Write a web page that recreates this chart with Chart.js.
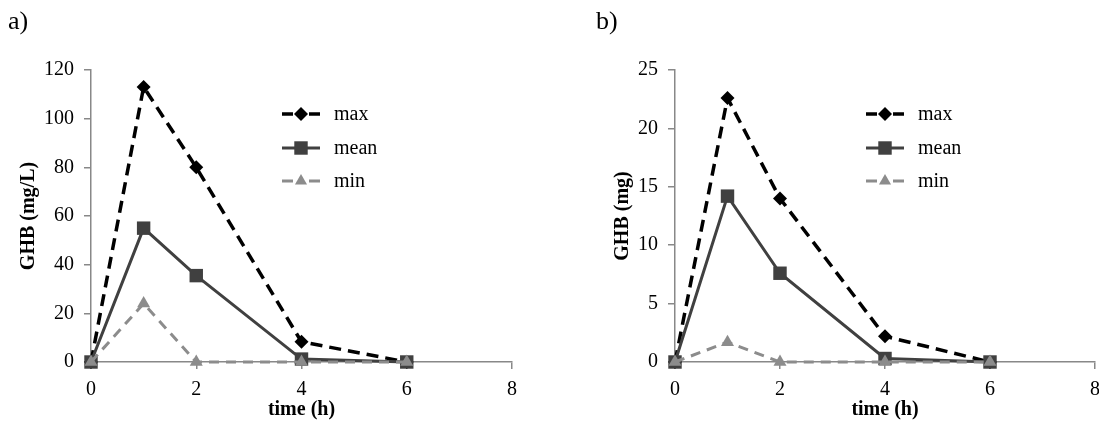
<!DOCTYPE html>
<html>
<head>
<meta charset="utf-8">
<script src="https://cdn.jsdelivr.net/npm/chart.js"></script>
<style>
  body { margin: 0; background: #fff; width: 1099px; height: 427px; position: relative; overflow: hidden; }
  canvas { position: absolute; top: 0; }
</style>
</head>
<body>
<canvas id="chartA" width="549" height="427" style="left:0"></canvas>
<canvas id="chartB" width="560" height="427" style="left:550px"></canvas>
<script>
// sampling times (h)
const times = [0, 1, 2, 4, 6];
const seriesNames = ["max", "mean", "min"];

// panel a) GHB concentration (mg/L)
const concMax = [0, 113, 80, 8.3, 0];
const concMean = [0, 55, 35.5, 1.2, 0];
const concMin = [0, 24, 0, 0, 0];

// panel b) GHB amount (mg)
const amtMax = [0, 22.6, 14, 2.2, 0];
const amtMean = [0, 14.2, 7.6, 0.3, 0];
const amtMin = [0, 1.7, 0, 0, 0];

const xTicks = [0, 2, 4, 6, 8];
const yTicksA = [0, 20, 40, 60, 80, 100, 120];
const yTicksB = [0, 5, 10, 15, 20, 25];

const serif = "'Liberation Serif', 'Times New Roman', serif";
const axisGray = "#888888";

// one style per series, same order as seriesNames
const styles = [
  { color: "#000000", dash: [12, 7], width: 3.5, point: "rectRot", radius: 7 },
  { color: "#404040", dash: [], width: 3, point: "rect", radius: 9.5 },
  { color: "#8c8c8c", dash: [10, 7], width: 3, point: "triangle", radius: 7.5 }
];

function drawMarker(ctx, type, x, y, r) {
  ctx.beginPath();
  if (type === "rectRot") {
    ctx.moveTo(x, y - r); ctx.lineTo(x + r, y); ctx.lineTo(x, y + r); ctx.lineTo(x - r, y);
  } else if (type === "rect") {
    const s = Math.SQRT1_2 * r;
    ctx.rect(x - s, y - s, 2 * s, 2 * s);
  } else {
    const w = r * Math.sqrt(3) / 2;
    ctx.moveTo(x, y - r); ctx.lineTo(x + w, y + r / 2); ctx.lineTo(x - w, y + r / 2);
  }
  ctx.closePath();
  ctx.fill();
}

// panel letter + legend drawn on the canvas
const decorPlugin = {
  id: "decor",
  afterDraw(chart, args, opts) {
    const ctx = chart.ctx;
    ctx.save();
    ctx.fillStyle = "#000";
    ctx.font = "26px " + serif;
    ctx.textBaseline = "middle";
    ctx.textAlign = "left";
    ctx.fillText(opts.panel, opts.panelX, 22);

    const lx0 = opts.legendX, lx1 = opts.legendX + 38, mid = (lx0 + lx1) / 2;
    seriesNames.forEach((name, i) => {
      const st = styles[i];
      const y = opts.rowsY[i];
      ctx.strokeStyle = st.color;
      ctx.fillStyle = st.color;
      ctx.lineWidth = st.width;
      ctx.lineCap = "butt";
      ctx.setLineDash([]);
      ctx.beginPath();
      if (st.dash.length) {
        ctx.moveTo(lx0, y); ctx.lineTo(mid - 8, y);
        ctx.moveTo(mid + 8, y); ctx.lineTo(lx1, y);
      } else {
        ctx.moveTo(lx0, y); ctx.lineTo(lx1, y);
      }
      ctx.stroke();
      drawMarker(ctx, st.point, mid, y, st.point === "rect" ? 9.5 : 7);
      ctx.fillStyle = "#000";
      ctx.font = "20px " + serif;
      ctx.fillText(name, lx1 + 14, y + 1);
    });
    ctx.restore();
  }
};

function makeChart(id, series, yTicks, yTitle, extra) {
  const datasets = series.map((vals, i) => ({
    label: seriesNames[i],
    data: times.map((t, k) => ({ x: t, y: vals[k] })),
    borderColor: styles[i].color,
    backgroundColor: styles[i].color,
    borderWidth: styles[i].width,
    borderDash: styles[i].dash,
    pointStyle: styles[i].point,
    pointRadius: styles[i].radius,
    pointBackgroundColor: styles[i].color,
    pointBorderColor: styles[i].color,
    pointBorderWidth: 0,
    tension: 0,
    clip: false,
    order: 2 - i
  }));

  return new Chart(id, {
    type: "line",
    data: { datasets: datasets },
    options: {
      responsive: false,
      animation: false,
      events: [],
      layout: { padding: { left: extra.padLeft, right: extra.padRight, top: 70, bottom: 0 } },
      plugins: {
        legend: { display: false },
        tooltip: { enabled: false },
        decor: { panel: extra.panel, panelX: extra.panelX, legendX: extra.legendX, rowsY: [114, 148, 181] }
      },
      scales: {
        x: {
          type: "linear",
          min: xTicks[0],
          max: xTicks[xTicks.length - 1],
          afterFit: s => { s.height = 65; },
          ticks: { stepSize: xTicks[1] - xTicks[0], padding: 9, color: "#000", font: { family: serif, size: 20 } },
          grid: { drawOnChartArea: false, drawTicks: true, tickLength: 7, color: axisGray, lineWidth: 1.5 },
          border: { display: true, color: axisGray, width: 1.5 },
          title: { display: true, text: "time (h)", color: "#000", padding: { top: 0, bottom: 5 },
                   font: { family: serif, size: 20, weight: "bold" } }
        },
        y: {
          min: yTicks[0],
          max: yTicks[yTicks.length - 1],
          afterFit: s => { s.width = extra.yWidth; },
          ticks: { stepSize: yTicks[1] - yTicks[0], padding: 10, color: "#000", font: { family: serif, size: 20 } },
          grid: { drawOnChartArea: false, drawTicks: true, tickLength: 7, color: axisGray, lineWidth: 1.5 },
          border: { display: true, color: axisGray, width: 1.5 },
          title: { display: true, text: yTitle, color: "#000", padding: { top: extra.titlePad, bottom: 0 },
                   font: { family: serif, size: 20, weight: "bold" } }
        }
      }
    },
    plugins: [decorPlugin]
  });
}

makeChart("chartA", [concMax, concMean, concMin], yTicksA, "GHB (mg/L)",
  { panel: "a)", panelX: 8, padLeft: 0, padRight: 37, yWidth: 91, titlePad: 17, legendX: 282 });
makeChart("chartB", [amtMax, amtMean, amtMin], yTicksB, "GHB (mg)",
  { panel: "b)", panelX: 46, padLeft: 40, padRight: 15, yWidth: 85, titlePad: 21, legendX: 316 });
</script>
</body>
</html>
